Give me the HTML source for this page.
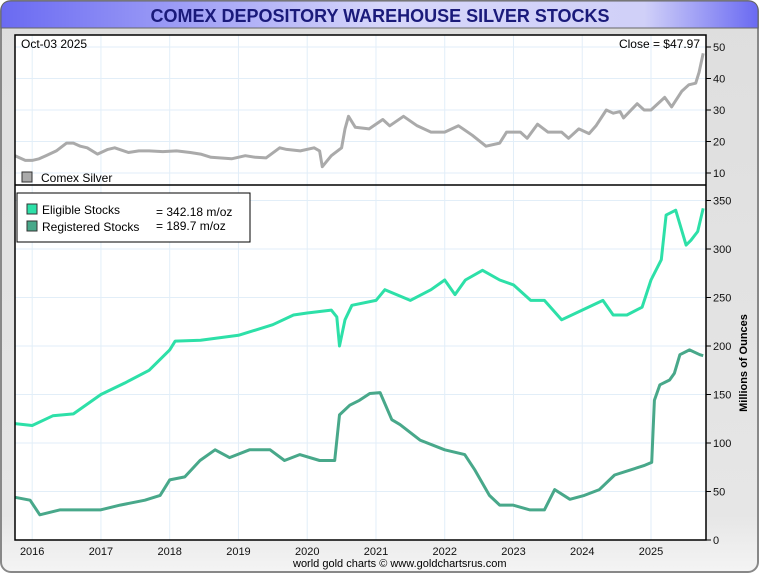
<!DOCTYPE html>
<html><head><meta charset="utf-8"><style>
body{margin:0;width:760px;height:575px;overflow:hidden;background:#fff;font-family:"Liberation Sans",sans-serif}
</style></head><body>
<svg id="c" width="760" height="575" xmlns="http://www.w3.org/2000/svg" font-family="Liberation Sans, sans-serif">
<defs>
<linearGradient id="tg" x1="0" x2="1"><stop offset="0" stop-color="#6a6af2"/><stop offset="0.5" stop-color="#d6d6fa"/><stop offset="0.85" stop-color="#d0d0f8"/><stop offset="1" stop-color="#6a6af2"/></linearGradient>
<linearGradient id="bg" x1="0" y1="0" x2="0" y2="1"><stop offset="0" stop-color="#dedede"/><stop offset="0.9" stop-color="#e6e6e6"/><stop offset="1" stop-color="#f4f4f4"/></linearGradient>
</defs>
<rect x="1" y="1" width="757" height="571" rx="10" fill="url(#bg)" stroke="#888" stroke-width="2"/>
<path d="M1 28 V11 Q1 1 11 1 H748 Q758 1 758 11 V28 Z" fill="url(#tg)" stroke="#666"/>
<text x="380" y="22" text-anchor="middle" font-size="18" font-weight="bold" fill="#1a1a7a">COMEX DEPOSITORY WAREHOUSE SILVER STOCKS</text>
<rect x="15" y="35" width="691" height="150" fill="#fff"/>
<rect x="15" y="185" width="691" height="355" fill="#fff"/>
<g id="grid"></g>
<g id="series"></g>
<rect x="15" y="35" width="691" height="505" fill="none" stroke="#000" stroke-width="1.5"/>
<line x1="15" y1="185" x2="706" y2="185" stroke="#000" stroke-width="1.5"/>
<g id="axes" font-size="11" fill="#111"></g>
<text x="21" y="48" font-size="12">Oct-03  2025</text>
<text x="700" y="48" font-size="12" text-anchor="end">Close = $47.97</text>
<rect x="22" y="172" width="10" height="10" fill="#aaa" stroke="#333"/>
<text x="41" y="182" font-size="12">Comex Silver</text>
<g>
<rect x="17" y="193" width="233" height="49" fill="#fff" stroke="#000"/>
<rect x="27" y="204" width="10" height="10" fill="#2de0a8" stroke="#333"/>
<text x="42" y="214" font-size="12">Eligible Stocks</text>
<text x="156" y="216" font-size="12">= 342.18 m/oz</text>
<rect x="27" y="221" width="10" height="10" fill="#48a88a" stroke="#333"/>
<text x="42" y="231" font-size="12">Registered Stocks</text>
<text x="156" y="230" font-size="12">= 189.7 m/oz</text>
</g>
<text transform="translate(747,363) rotate(-90)" text-anchor="middle" font-size="11" font-weight="bold">Millions of Ounces</text>
<text x="293" y="567" font-size="11">world gold charts © www.goldchartsrus.com</text>
</svg>
<script>
const yearTicks=[2016,2017,2018,2019,2020,2021,2022,2023,2024,2025];
const priceTicks=[10,20,30,40,50];
const stockTicks=[0,50,100,150,200,250,300,350];
const silverDates=[2015.75,2015.9,2016.0,2016.1,2016.2,2016.35,2016.5,2016.6,2016.7,2016.8,2016.95,2017.1,2017.2,2017.4,2017.55,2017.7,2017.9,2018.1,2018.3,2018.45,2018.6,2018.9,2019.1,2019.25,2019.4,2019.6,2019.7,2019.9,2020.1,2020.18,2020.22,2020.35,2020.5,2020.55,2020.6,2020.7,2020.9,2021.1,2021.2,2021.4,2021.6,2021.8,2022.0,2022.2,2022.4,2022.6,2022.8,2022.9,2023.1,2023.2,2023.35,2023.5,2023.7,2023.8,2023.95,2024.1,2024.2,2024.35,2024.45,2024.55,2024.6,2024.8,2024.9,2025.0,2025.2,2025.3,2025.45,2025.55,2025.65,2025.7,2025.76];
const silverPrice=[15.5,14,14,14.5,15.5,17,19.5,19.5,18.5,18,16,17.5,18,16.5,17,17,16.8,17,16.5,16,15,14.5,15.5,15,14.8,18,17.5,17,18,17,12,15.5,18,24,28,24.5,24,27,25,28,25,23,23,25,22,18.5,19.5,23,23,21,25.5,23,23,21,24,22.5,25,30,29,29.5,27.5,32,30,30,34,31,36,38,38.5,42,48];
const eligibleDates=[2015.75,2016.0,2016.3,2016.6,2017.0,2017.35,2017.7,2018.0,2018.08,2018.45,2019.0,2019.5,2019.8,2020.0,2020.35,2020.43,2020.47,2020.55,2020.65,2021.0,2021.13,2021.5,2021.8,2022.0,2022.15,2022.3,2022.55,2022.8,2023.0,2023.25,2023.45,2023.7,2024.0,2024.3,2024.45,2024.65,2024.87,2025.0,2025.15,2025.22,2025.36,2025.51,2025.58,2025.68,2025.76];
const eligibleStocks=[120,118,128,130,150,162,175,196,205,206,211,222,232,234,237,230,200,227,242,247,258,247,258,268,253,268,278,268,263,247,247,227,237,247,232,232,240,268,289,335,340,304,309,318,342];
const registeredDates=[2015.75,2015.97,2016.11,2016.4,2016.7,2016.99,2017.28,2017.64,2017.86,2018.0,2018.22,2018.44,2018.66,2018.87,2019.16,2019.46,2019.67,2019.89,2020.18,2020.4,2020.47,2020.62,2020.76,2020.91,2021.06,2021.23,2021.35,2021.64,2022.0,2022.29,2022.44,2022.65,2022.8,2022.99,2023.24,2023.45,2023.6,2023.82,2024.03,2024.25,2024.47,2024.69,2024.91,2025.01,2025.05,2025.13,2025.27,2025.34,2025.42,2025.56,2025.71,2025.76];
const registeredStocks=[44,41,26,31,31,31,36,41,46,62,65,82,93,85,93,93,82,88,82,82,129,139,144,151,152,124,119,103,93,88,72,46,36,36,31,31,52,42,46,52,67,72,77,80,144,160,165,172,191,196,191,190];
const X0=2015.75,X1=2025.8,PL=15,PR=706;
const xS=t=>PL+(t-X0)/(X1-X0)*(PR-PL);
const pY=v=>173-(v-10)*3.15;
const sY=v=>540-v*0.97;
const NS="http://www.w3.org/2000/svg";
function mk(tag,attrs,parent){const e=document.createElementNS(NS,tag);for(const k in attrs)e.setAttribute(k,attrs[k]);parent.appendChild(e);return e;}
const grid=document.getElementById('grid'),axes=document.getElementById('axes'),ser=document.getElementById('series');
yearTicks.forEach(y=>{
  const x=xS(y);
  const g=mk('line',{x1:x,y1:35,x2:x,y2:540,stroke:'#e2eef8'},grid);
  
  
  const t=mk('text',{x:x,y:555,'text-anchor':'middle'},axes);t.textContent=y;
  
  
});
priceTicks.forEach(v=>{
  const y=pY(v);
  const g=mk('line',{x1:15,y1:y,x2:706,y2:y,stroke:'#e2eef8'},grid);
  
  
  mk('line',{x1:706,y1:y,x2:711,y2:y,stroke:'#000'},axes);
  const t=mk('text',{x:713,y:y+4},axes);t.textContent=v;
  
  
});
stockTicks.forEach(v=>{
  const y=sY(v);
  if(v>0){const g=mk('line',{x1:15,y1:y,x2:706,y2:y,stroke:'#e2eef8'},grid);
  
  }
  mk('line',{x1:706,y1:y,x2:711,y2:y,stroke:'#000'},axes);
  const t=mk('text',{x:713,y:y+4},axes);t.textContent=v;
  
  
});
function line(d,v,yf,col,name){
  const pts=d.map((t,i)=>xS(t).toFixed(1)+','+yf(v[i]).toFixed(1)).join(' ');
  const p=mk('polyline',{points:pts,fill:'none',stroke:col,'stroke-width':3,'stroke-linejoin':'round'},ser);
  
  
}
line(silverDates,silverPrice,pY,'#aaaaaa','silver-price-line');
line(eligibleDates,eligibleStocks,sY,'#2de0a8','eligible-stocks-line');
line(registeredDates,registeredStocks,sY,'#48a88a','registered-stocks-line');
</script>
</body></html>
